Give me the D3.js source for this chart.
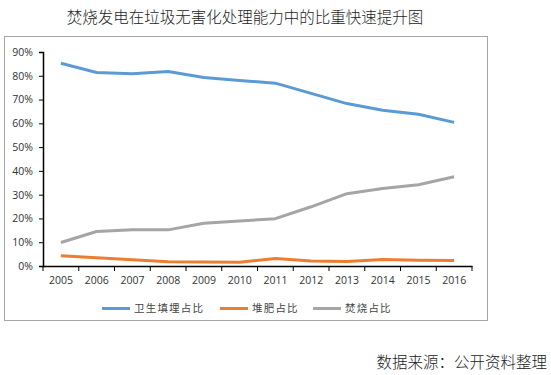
<!DOCTYPE html>
<html>
<head>
<meta charset="utf-8">
<script src="https://cdn.jsdelivr.net/npm/d3@7"></script>
<style>
  body { margin: 0; background: #fff; }
  svg { display: block; }
</style>
</head>
<body>
<script>
// data
var years = ["2005","2006","2007","2008","2009","2010","2011","2012","2013","2014","2015","2016"];
var landfill = [85.3, 81.4, 80.9, 81.8, 79.3, 78.0, 76.9, 72.6, 68.3, 65.5, 63.8, 60.4];
var compost = [4.3, 3.5, 2.6, 1.8, 1.7, 1.6, 3.2, 2.1, 1.9, 2.7, 2.4, 2.3];
var burning = [9.9, 14.5, 15.2, 15.2, 18.0, 18.9, 19.9, 24.9, 30.4, 32.6, 34.2, 37.5];
var yTicks = [0, 10, 20, 30, 40, 50, 60, 70, 80, 90];
var seriesNames = ["卫生填埋占比", "堆肥占比", "焚烧占比"];
var colors = ["#5B9BD5", "#ED7D31", "#A5A5A5"];

var W = 551, H = 375;
var margin = {top: 52, right: 79, bottom: 109, left: 43};
var width = W - margin.left - margin.right,
    height = H - margin.top - margin.bottom;

var svg = d3.select("body").append("svg")
    .attr("width", W)
    .attr("height", H);

// title
svg.append("text")
    .attr("x", 245).attr("y", 23)
    .attr("text-anchor", "middle")
    .style("font-family", "'Noto Sans CJK SC', sans-serif")
    .style("font-size", "15.5px")
    .style("font-weight", 300)
    .style("fill", "#222")
    .text("焚烧发电在垃圾无害化处理能力中的比重快速提升图");

// chart frame
svg.append("rect")
    .attr("x", 4.5).attr("y", 36.5)
    .attr("width", 483).attr("height", 284)
    .attr("fill", "none")
    .attr("stroke", "#a6a6a6");

var g = svg.append("g")
    .attr("transform", "translate(" + margin.left + "," + margin.top + ")");

var x = d3.scaleBand().domain(years).range([0, width]);
var y = d3.scaleLinear().domain([0, 90]).range([height, 0]);

// axes
var xAxis = g.append("g")
    .attr("transform", "translate(0," + height + ")")
    .call(d3.axisBottom(x).tickSize(0).tickPadding(11));
xAxis.selectAll("text")
    .style("font-family", "'Open Sans', sans-serif")
    .style("font-size", "10.5px")
    .style("fill", "#333");
// ticks on the band borders
xAxis.selectAll(".border")
    .data(d3.range(years.length + 1))
    .enter().append("line")
    .attr("x1", function(i) { return i * x.step(); })
    .attr("x2", function(i) { return i * x.step(); })
    .attr("y1", 0).attr("y2", 5)
    .attr("stroke", "#000");
xAxis.select(".domain").attr("stroke", "#000").attr("stroke-width", 1.5);

var yAxis = g.append("g")
    .call(d3.axisLeft(y).tickValues(yTicks).tickSize(4).tickPadding(6)
        .tickFormat(function(d) { return d + "%"; }));
yAxis.selectAll("text")
    .style("font-family", "'Open Sans', sans-serif")
    .style("font-size", "10.5px")
    .style("fill", "#333");
yAxis.select(".domain").attr("stroke", "#000").attr("stroke-width", 1.5);
yAxis.selectAll(".tick line").attr("stroke", "#000");

// lines
var line = d3.line()
    .x(function(d, i) { return x(years[i]) + x.bandwidth() / 2; })
    .y(function(d) { return y(d); });

[landfill, compost, burning].forEach(function(s, k) {
  g.append("path")
    .datum(s)
    .attr("d", line)
    .attr("fill", "none")
    .attr("stroke", colors[k])
    .attr("stroke-width", 3)
    .attr("stroke-linejoin", "round");
});

// legend
var legendX = [102, 220, 313];
var lg = svg.selectAll(".legend")
    .data(seriesNames)
    .enter().append("g")
    .attr("transform", function(d, i) { return "translate(" + legendX[i] + ",308.5)"; });
lg.append("line")
    .attr("x1", 0).attr("x2", 28)
    .attr("stroke", function(d, i) { return colors[i]; })
    .attr("stroke-width", 3);
lg.append("text")
    .attr("x", 32).attr("dy", "0.35em")
    .style("font-family", "'Noto Sans CJK SC', sans-serif")
    .style("font-size", "10.5px")
    .style("letter-spacing", "1.2px")
    .style("fill", "#444")
    .text(function(d) { return d; });

// source
svg.append("text")
    .attr("x", 547).attr("y", 368)
    .attr("text-anchor", "end")
    .style("font-family", "'Noto Sans CJK SC', sans-serif")
    .style("font-size", "15.5px")
    .style("font-weight", 300)
    .style("fill", "#222")
    .text("数据来源：公开资料整理");
</script>
</body>
</html>
